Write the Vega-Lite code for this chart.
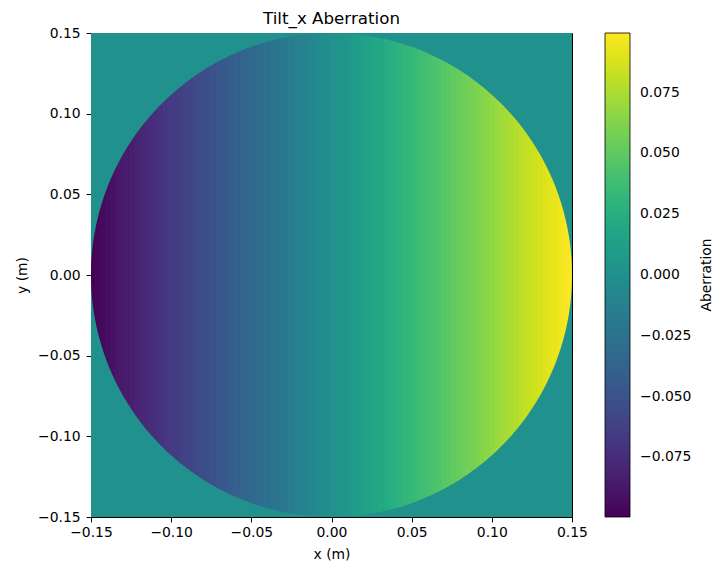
{
  "$schema": "https://vega.github.io/schema/vega-lite/v6.json",
  "width": 481,
  "height": 484,
  "autosize": {"type": "none"},
  "padding": {"left": 91, "top": 33, "right": 145, "bottom": 55},
  "background": "white",
  "title": {"text": "Tilt_x Aberration", "fontSize": 16.7, "font": "DejaVu Sans", "fontWeight": "normal", "color": "black", "offset": -2, "anchor": "middle"},
  "config": {
    "view": {"stroke": "black", "strokeWidth": 1},
    "font": "DejaVu Sans",
    "axis": {"labelFont": "DejaVu Sans", "labelFontSize": 13.9, "labelColor": "black", "titleFont": "DejaVu Sans", "titleFontSize": 13.9, "titleFontWeight": "normal", "titleColor": "black", "tickColor": "black", "domainColor": "black", "tickSize": 4.9, "tickWidth": 1, "grid": false, "labelFlush": false, "labelOverlap": false}
  },
  "datasets": {
    "strips": [
      {"a": -0.15, "b": -0.147, "v": -0.099}, {"a": -0.147, "b": -0.144, "v": -0.097}, {"a": -0.144, "b": -0.141, "v": -0.095}, {"a": -0.141, "b": -0.138, "v": -0.093}, {"a": -0.138, "b": -0.135, "v": -0.091},
      {"a": -0.135, "b": -0.132, "v": -0.089}, {"a": -0.132, "b": -0.129, "v": -0.087}, {"a": -0.129, "b": -0.126, "v": -0.085}, {"a": -0.126, "b": -0.123, "v": -0.083}, {"a": -0.123, "b": -0.12, "v": -0.081},
      {"a": -0.12, "b": -0.117, "v": -0.079}, {"a": -0.117, "b": -0.114, "v": -0.077}, {"a": -0.114, "b": -0.111, "v": -0.075}, {"a": -0.111, "b": -0.108, "v": -0.073}, {"a": -0.108, "b": -0.105, "v": -0.071},
      {"a": -0.105, "b": -0.102, "v": -0.069}, {"a": -0.102, "b": -0.099, "v": -0.067}, {"a": -0.099, "b": -0.096, "v": -0.065}, {"a": -0.096, "b": -0.093, "v": -0.063}, {"a": -0.093, "b": -0.09, "v": -0.061},
      {"a": -0.09, "b": -0.087, "v": -0.059}, {"a": -0.087, "b": -0.084, "v": -0.057}, {"a": -0.084, "b": -0.081, "v": -0.055}, {"a": -0.081, "b": -0.078, "v": -0.053}, {"a": -0.078, "b": -0.075, "v": -0.051},
      {"a": -0.075, "b": -0.072, "v": -0.049}, {"a": -0.072, "b": -0.069, "v": -0.047}, {"a": -0.069, "b": -0.066, "v": -0.045}, {"a": -0.066, "b": -0.063, "v": -0.043}, {"a": -0.063, "b": -0.06, "v": -0.041},
      {"a": -0.06, "b": -0.057, "v": -0.039}, {"a": -0.057, "b": -0.054, "v": -0.037}, {"a": -0.054, "b": -0.051, "v": -0.035}, {"a": -0.051, "b": -0.048, "v": -0.033}, {"a": -0.048, "b": -0.045, "v": -0.031},
      {"a": -0.045, "b": -0.042, "v": -0.029}, {"a": -0.042, "b": -0.039, "v": -0.027}, {"a": -0.039, "b": -0.036, "v": -0.025}, {"a": -0.036, "b": -0.033, "v": -0.023}, {"a": -0.033, "b": -0.03, "v": -0.021},
      {"a": -0.03, "b": -0.027, "v": -0.019}, {"a": -0.027, "b": -0.024, "v": -0.017}, {"a": -0.024, "b": -0.021, "v": -0.015}, {"a": -0.021, "b": -0.018, "v": -0.013}, {"a": -0.018, "b": -0.015, "v": -0.011},
      {"a": -0.015, "b": -0.012, "v": -0.009}, {"a": -0.012, "b": -0.009, "v": -0.007}, {"a": -0.009, "b": -0.006, "v": -0.005}, {"a": -0.006, "b": -0.003, "v": -0.003}, {"a": -0.003, "b": 0, "v": -0.001},
      {"a": 0, "b": 0.003, "v": 0.001}, {"a": 0.003, "b": 0.006, "v": 0.003}, {"a": 0.006, "b": 0.009, "v": 0.005}, {"a": 0.009, "b": 0.012, "v": 0.007}, {"a": 0.012, "b": 0.015, "v": 0.009},
      {"a": 0.015, "b": 0.018, "v": 0.011}, {"a": 0.018, "b": 0.021, "v": 0.013}, {"a": 0.021, "b": 0.024, "v": 0.015}, {"a": 0.024, "b": 0.027, "v": 0.017}, {"a": 0.027, "b": 0.03, "v": 0.019},
      {"a": 0.03, "b": 0.033, "v": 0.021}, {"a": 0.033, "b": 0.036, "v": 0.023}, {"a": 0.036, "b": 0.039, "v": 0.025}, {"a": 0.039, "b": 0.042, "v": 0.027}, {"a": 0.042, "b": 0.045, "v": 0.029},
      {"a": 0.045, "b": 0.048, "v": 0.031}, {"a": 0.048, "b": 0.051, "v": 0.033}, {"a": 0.051, "b": 0.054, "v": 0.035}, {"a": 0.054, "b": 0.057, "v": 0.037}, {"a": 0.057, "b": 0.06, "v": 0.039},
      {"a": 0.06, "b": 0.063, "v": 0.041}, {"a": 0.063, "b": 0.066, "v": 0.043}, {"a": 0.066, "b": 0.069, "v": 0.045}, {"a": 0.069, "b": 0.072, "v": 0.047}, {"a": 0.072, "b": 0.075, "v": 0.049},
      {"a": 0.075, "b": 0.078, "v": 0.051}, {"a": 0.078, "b": 0.081, "v": 0.053}, {"a": 0.081, "b": 0.084, "v": 0.055}, {"a": 0.084, "b": 0.087, "v": 0.057}, {"a": 0.087, "b": 0.09, "v": 0.059},
      {"a": 0.09, "b": 0.093, "v": 0.061}, {"a": 0.093, "b": 0.096, "v": 0.063}, {"a": 0.096, "b": 0.099, "v": 0.065}, {"a": 0.099, "b": 0.102, "v": 0.067}, {"a": 0.102, "b": 0.105, "v": 0.069},
      {"a": 0.105, "b": 0.108, "v": 0.071}, {"a": 0.108, "b": 0.111, "v": 0.073}, {"a": 0.111, "b": 0.114, "v": 0.075}, {"a": 0.114, "b": 0.117, "v": 0.077}, {"a": 0.117, "b": 0.12, "v": 0.079},
      {"a": 0.12, "b": 0.123, "v": 0.081}, {"a": 0.123, "b": 0.126, "v": 0.083}, {"a": 0.126, "b": 0.129, "v": 0.085}, {"a": 0.129, "b": 0.132, "v": 0.087}, {"a": 0.132, "b": 0.135, "v": 0.089},
      {"a": 0.135, "b": 0.138, "v": 0.091}, {"a": 0.138, "b": 0.141, "v": 0.093}, {"a": 0.141, "b": 0.144, "v": 0.095}, {"a": 0.144, "b": 0.147, "v": 0.097}, {"a": 0.147, "b": 0.15, "v": 0.099}
    ],
    "rim": [
      {"x": -0.15, "t": 0, "bt": 0}, {"x": -0.1499, "t": 0.00548, "bt": -0.00548}, {"x": -0.1495, "t": 0.01224, "bt": -0.01224}, {"x": -0.149, "t": 0.01729, "bt": -0.01729},
      {"x": -0.148, "t": 0.02441, "bt": -0.02441}, {"x": -0.147, "t": 0.02985, "bt": -0.02985}, {"x": -0.145, "t": 0.03841, "bt": -0.03841}, {"x": -0.143, "t": 0.04529, "bt": -0.04529},
      {"x": -0.14, "t": 0.05385, "bt": -0.05385}, {"x": -0.135, "t": 0.06538, "bt": -0.06538}, {"x": -0.13, "t": 0.07483, "bt": -0.07483}, {"x": -0.125, "t": 0.08292, "bt": -0.08292},
      {"x": -0.12, "t": 0.09, "bt": -0.09}, {"x": -0.11, "t": 0.10198, "bt": -0.10198}, {"x": -0.1, "t": 0.1118, "bt": -0.1118}, {"x": -0.09, "t": 0.12, "bt": -0.12},
      {"x": -0.08, "t": 0.12689, "bt": -0.12689}, {"x": -0.07, "t": 0.13266, "bt": -0.13266}, {"x": -0.06, "t": 0.13748, "bt": -0.13748}, {"x": -0.05, "t": 0.14142, "bt": -0.14142},
      {"x": -0.04, "t": 0.14457, "bt": -0.14457}, {"x": -0.03, "t": 0.14697, "bt": -0.14697}, {"x": -0.02, "t": 0.14866, "bt": -0.14866}, {"x": -0.01, "t": 0.14967, "bt": -0.14967},
      {"x": 0, "t": 0.15, "bt": -0.15},
      {"x": 0.01, "t": 0.14967, "bt": -0.14967}, {"x": 0.02, "t": 0.14866, "bt": -0.14866}, {"x": 0.03, "t": 0.14697, "bt": -0.14697}, {"x": 0.04, "t": 0.14457, "bt": -0.14457},
      {"x": 0.05, "t": 0.14142, "bt": -0.14142}, {"x": 0.06, "t": 0.13748, "bt": -0.13748}, {"x": 0.07, "t": 0.13266, "bt": -0.13266}, {"x": 0.08, "t": 0.12689, "bt": -0.12689},
      {"x": 0.09, "t": 0.12, "bt": -0.12}, {"x": 0.1, "t": 0.1118, "bt": -0.1118}, {"x": 0.11, "t": 0.10198, "bt": -0.10198}, {"x": 0.12, "t": 0.09, "bt": -0.09},
      {"x": 0.125, "t": 0.08292, "bt": -0.08292}, {"x": 0.13, "t": 0.07483, "bt": -0.07483}, {"x": 0.135, "t": 0.06538, "bt": -0.06538}, {"x": 0.14, "t": 0.05385, "bt": -0.05385},
      {"x": 0.143, "t": 0.04529, "bt": -0.04529}, {"x": 0.145, "t": 0.03841, "bt": -0.03841}, {"x": 0.147, "t": 0.02985, "bt": -0.02985}, {"x": 0.148, "t": 0.02441, "bt": -0.02441},
      {"x": 0.149, "t": 0.01729, "bt": -0.01729}, {"x": 0.1495, "t": 0.01224, "bt": -0.01224}, {"x": 0.1499, "t": 0.00548, "bt": -0.00548}, {"x": 0.15, "t": 0, "bt": 0}
    ]
  },
  "layer": [
    {
      "data": {"name": "strips"},
      "mark": {"type": "rect", "clip": true, "strokeWidth": 1},
      "encoding": {
        "x": {"field": "a", "type": "quantitative", "scale": {"domain": [-0.15, 0.15], "nice": false, "zero": false}, "axis": {"title": "x (m)", "values": [-0.15, -0.1, -0.05, 0, 0.05, 0.1, 0.15], "format": ".2f", "labelPadding": 4, "titlePadding": 8}},
        "x2": {"field": "b"},
        "y": {"datum": -0.15, "type": "quantitative", "scale": {"domain": [-0.15, 0.15], "nice": false, "zero": false}, "axis": {"title": "y (m)", "values": [-0.15, -0.1, -0.05, 0, 0.05, 0.1, 0.15], "format": ".2f", "labelPadding": 6, "titlePadding": 8}},
        "y2": {"datum": 0.15},
        "color": {"field": "v", "type": "quantitative", "scale": {"scheme": "viridis", "domain": [-0.0995, 0.0995]},
          "legend": {"type": "gradient", "title": "Aberration", "orient": "none", "legendX": 514, "legendY": 0, "direction": "vertical", "gradientLength": 484, "gradientThickness": 25, "gradientStrokeColor": "black", "gradientStrokeWidth": 0.8, "values": [-0.075, -0.05, -0.025, 0, 0.025, 0.05, 0.075], "format": ".3f", "labelFont": "DejaVu Sans", "labelFontSize": 13.9, "labelColor": "black", "labelOffset": 10, "titleOrient": "right", "titleFont": "DejaVu Sans", "titleFontSize": 13.9, "titleFontWeight": "normal", "titleColor": "black", "titleAnchor": "middle", "titlePadding": 23, "labelOverlap": false,
            "encode": {"title": {"update": {"angle": {"value": -90}}}}}},
        "stroke": {"field": "v", "type": "quantitative", "scale": {"scheme": "viridis", "domain": [-0.09950001, 0.09950001]}, "legend": null}
      }
    },
    {
      "data": {"name": "rim"},
      "mark": {"type": "area", "interpolate": "monotone", "clip": true},
      "encoding": {
        "x": {"field": "x", "type": "quantitative"},
        "y": {"field": "t", "type": "quantitative"},
        "y2": {"datum": 0.15},
        "color": {"datum": 0, "type": "quantitative"}
      }
    },
    {
      "data": {"name": "rim"},
      "mark": {"type": "area", "interpolate": "monotone", "clip": true},
      "encoding": {
        "x": {"field": "x", "type": "quantitative"},
        "y": {"field": "bt", "type": "quantitative"},
        "y2": {"datum": -0.15},
        "color": {"datum": 0, "type": "quantitative"}
      }
    }
  ]
}
